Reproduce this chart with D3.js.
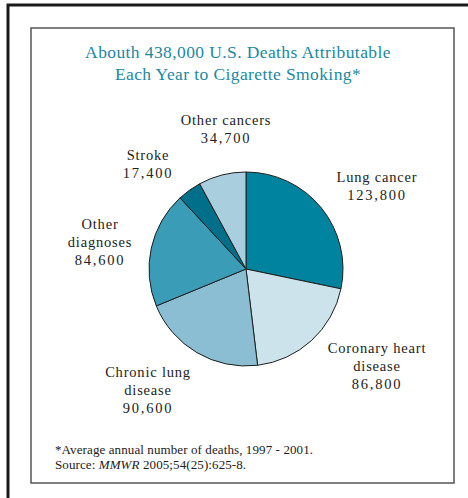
<!DOCTYPE html>
<html>
<head>
<meta charset="utf-8">
<script src="https://cdn.jsdelivr.net/npm/d3@7"></script>
<style>
  body { margin: 0; background: #fff; }
  svg { display: block; }
</style>
</head>
<body>
<svg id="chart"></svg>
<script>
// Data
const causes = ["Lung cancer", "Coronary heart disease", "Chronic lung disease",
                "Other diagnoses", "Stroke", "Other cancers"];
const deaths = [123800, 86800, 90600, 84600, 17400, 34700];
const labelLines = [["Lung cancer"], ["Coronary heart", "disease"], ["Chronic lung", "disease"],
                    ["Other", "diagnoses"], ["Stroke"], ["Other cancers"]];
const titleLines = ["Abouth 438,000 U.S. Deaths Attributable", "Each Year to Cigarette Smoking*"];

// Layout / style
const sliceColors = ["#00839f", "#cce3ec", "#8bbed2", "#3a9cb7", "#006f8a", "#a9cfde"];
// label block anchor (first baseline) relative to pie centre
const labelAnchor = [[131, -87], [131, 84], [-98, 108], [-146, -40], [-98, -109], [-20, -144]];

const width = 468, height = 498;
const cx = 246, cy = 269, radius = 97;
const serif = "'Liberation Serif', 'Times New Roman', serif";

const svg = d3.select("#chart").attr("width", width).attr("height", height);

// Frames
svg.append("path")
  .attr("d", `M8,${height} L8,5 L${width},5`)
  .attr("fill", "none")
  .attr("stroke", "#1a1a1a")
  .attr("stroke-width", 3);

svg.append("rect")
  .attr("x", 31).attr("y", 28)
  .attr("width", 423).attr("height", 455)
  .attr("fill", "#fff")
  .attr("stroke", "#555")
  .attr("stroke-width", 1.5);

// Title
svg.append("g").selectAll("text")
  .data(titleLines)
  .join("text")
  .attr("x", 238)
  .attr("y", (d, i) => 58 + i * 22)
  .attr("text-anchor", "middle")
  .style("font-family", serif)
  .style("font-size", "17.5px")
  .style("letter-spacing", "0.4px")
  .style("fill", "#1c88a2")
  .text(d => d);

// Pie
const pie = d3.pie().sort(null).value(d => d)(deaths);
const arc = d3.arc().innerRadius(0).outerRadius(radius);

const g = svg.append("g").attr("transform", `translate(${cx},${cy})`);

g.selectAll("path")
  .data(pie)
  .join("path")
  .attr("d", arc)
  .attr("fill", (d, i) => sliceColors[i])
  .attr("stroke", "#1e1e1e")
  .attr("stroke-width", 1)
  .attr("stroke-linejoin", "round");

// Labels
const fmt = d3.format(",");
const labels = g.selectAll("g.label")
  .data(pie)
  .join("g")
  .attr("class", "label")
  .attr("transform", (d, i) => `translate(${labelAnchor[i][0]},${labelAnchor[i][1]})`);

labels.each(function (d, i) {
  const lines = labelLines[i];
  const t = d3.select(this);
  lines.forEach((ln, j) => {
    t.append("text")
      .attr("y", j * 18)
      .attr("text-anchor", "middle")
      .style("font-family", serif)
      .style("font-size", "14.5px")
      .style("letter-spacing", "0.8px")
      .style("fill", "#222")
      .text(ln);
  });
  t.append("text")
    .attr("y", lines.length * 18)
    .attr("text-anchor", "middle")
    .style("font-family", serif)
    .style("font-size", "14.5px")
    .style("letter-spacing", "1.8px")
    .style("fill", "#222")
    .text(fmt(d.data));
});

// Footnote
const foot = svg.append("text")
  .attr("x", 55).attr("y", 454)
  .style("font-family", serif)
  .style("font-size", "13px")
  .style("letter-spacing", "0.1px")
  .style("fill", "#222");
foot.text("*Average annual number of deaths, 1997 - 2001.");

const src = svg.append("text")
  .attr("x", 55).attr("y", 469)
  .style("font-family", serif)
  .style("font-size", "13px")
  .style("letter-spacing", "0.1px")
  .style("fill", "#222");
src.append("tspan").text("Source: ");
src.append("tspan").style("font-style", "italic").text("MMWR");
src.append("tspan").text(" 2005;54(25):625-8.");
</script>
</body>
</html>
